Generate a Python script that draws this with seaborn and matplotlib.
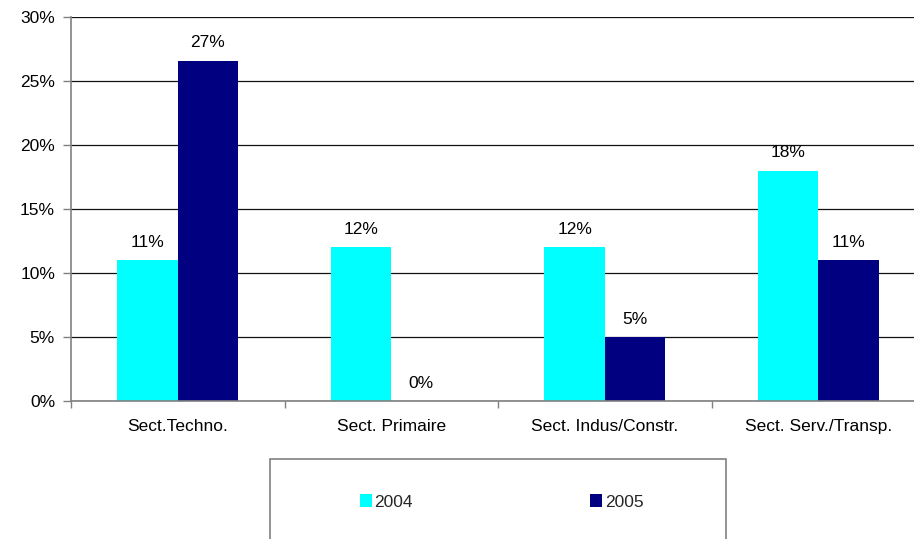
"""
Sector growth chart 2004 vs 2005
"""
import matplotlib
matplotlib.use('Agg')
import matplotlib.pyplot as plt
from matplotlib.patches import Rectangle
import seaborn as sns
import pandas as pd

# Data
sectors = ['Sect.Techno.', 'Sect. Primaire', 'Sect. Indus/Constr.', 'Sect. Serv./Transp.']
years = ['2004', '2005']
values_2004 = [11.0, 12.0, 12.0, 18.0]
values_2005 = [26.6, 0.0, 5.0, 11.0]
colors = ['#00FFFF', '#000080']
y_ticks = [0, 5, 10, 15, 20, 25, 30]

df = pd.DataFrame({
    'sector': sectors * 2,
    'year': [years[0]] * 4 + [years[1]] * 4,
    'value': values_2004 + values_2005,
})

sns.set_theme(style='white')
plt.rcParams['font.family'] = ['Liberation Sans', 'DejaVu Sans']
FS = 12.5

fig = plt.figure(figsize=(9.14, 5.39), dpi=100)
W, H = 914, 539
# axes runs past the right edge, like the reference
ax = fig.add_axes([71 / W, 1 - 401 / H, 854 / W, 384 / H])

sns.barplot(data=df, x='sector', y='value', hue='year', order=sectors,
            hue_order=years, palette=colors, width=0.565, saturation=1,
            linewidth=0, ax=ax, legend=False)

ax.set_ylim(0, 30)
ax.set_xlim(-0.5, len(sectors) - 0.5)
ax.set_yticks(y_ticks)
ax.set_yticklabels([f'{t}%' for t in y_ticks], fontsize=FS, color='black')
ax.yaxis.grid(True, color='#111111', linewidth=0.9)
ax.set_axisbelow(True)
ax.set_xlabel('')
ax.set_ylabel('')

# category ticks sit on the boundaries
ax.set_xticks(range(len(sectors)))
ax.set_xticklabels(sectors, fontsize=FS, color='black')
ax.tick_params(axis='x', which='major', length=0, pad=13)
ax.set_xticks([i - 0.5 for i in range(len(sectors) + 1)], minor=True)
ax.tick_params(axis='x', which='minor', length=5, color='#808080', width=1, bottom=True)
ax.tick_params(axis='y', length=6, color='#808080', width=1, left=True, pad=5.5)

for side in ['top', 'right']:
    ax.spines[side].set_visible(False)
for side in ['left', 'bottom']:
    ax.spines[side].set_color('#808080')
    ax.spines[side].set_linewidth(1.2)

# value labels
for container in ax.containers:
    for bar in container:
        h = bar.get_height()
        ax.annotate(f'{h:.0f}%', xy=(bar.get_x() + bar.get_width() / 2, h),
                    xytext=(0, 12.8), textcoords='offset points',
                    ha='center', va='center', fontsize=FS, color='black')

# legend box at the bottom (cut off by the figure edge)
fig.patches.append(Rectangle((270 / W, -0.05), 456 / W, 0.05 + (539 - 459) / H,
                             transform=fig.transFigure, fill=False,
                             edgecolor='#808080', linewidth=1.2))
handles = [Rectangle((0, 0), 1, 1, facecolor=c, edgecolor='none') for c in colors]
leg = fig.legend(handles, years, loc='center left', ncol=2, frameon=False,
                 bbox_to_anchor=(344 / W, 1 - 502 / H), fontsize=FS,
                 handlelength=0.7, handleheight=0.76, handletextpad=0.15,
                 columnspacing=10.2)

fig.savefig('out.png', dpi=100)
plt.close(fig)
